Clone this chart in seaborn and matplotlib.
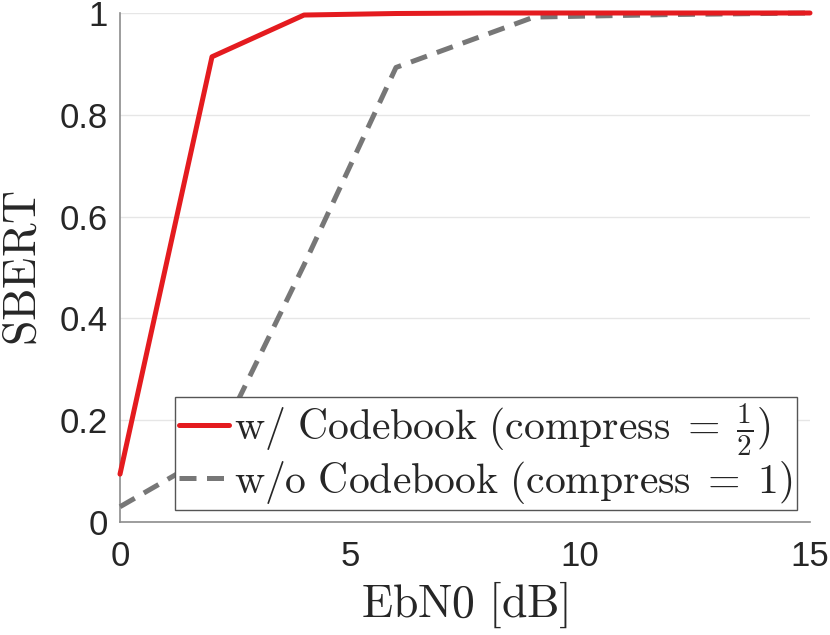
import numpy as np
import pandas as pd
import seaborn as sns
import matplotlib
matplotlib.use("Agg")
import matplotlib.pyplot as plt
from matplotlib.ticker import FuncFormatter

# values
ebn0_cb = [0, 2, 4, 6, 8, 10, 12, 14, 15]
sbert_cb = [0.094, 0.914, 0.996, 0.999, 1.0, 1.0, 1.0, 1.0, 1.0]
ebn0_nocb = [0, 2, 4, 6, 9, 12, 15]
sbert_nocb = [0.03, 0.134, 0.505, 0.893, 0.992, 0.997, 1.0]

lab_cb = r'$\mathrm{w/\ Codebook\ (compress}\;=\;\frac{1}{2}\mathrm{)}$'
lab_nocb = r'$\mathrm{w/o\ Codebook\ (compress}\;=\;1\mathrm{)}$'

sns.set_theme(style="white")
plt.rcParams['font.family'] = ['Liberation Sans', 'DejaVu Sans']
plt.rcParams['mathtext.fontset'] = 'cm'

fig = plt.figure(figsize=(8.3, 6.35), dpi=100)
ax = fig.add_axes([120/830, 1-522/635, 690/830, 509/635])

df1 = pd.DataFrame({'x': ebn0_cb, 'y': sbert_cb})
df2 = pd.DataFrame({'x': ebn0_nocb, 'y': sbert_nocb})
sns.lineplot(data=df1, x='x', y='y', ax=ax, color='#e41b1f', lw=3.6,
             label=lab_cb, clip_on=False, zorder=4)
sns.lineplot(data=df2, x='x', y='y', ax=ax, color='#777777', lw=3.6,
             linestyle=(0, (3.4, 2.1)), label=lab_nocb, clip_on=False, zorder=3)

ax.set_xlim(0, 15)
ax.set_ylim(0, 1)
ax.set_xticks([0, 5, 10, 15])
ax.set_yticks([0, 0.2, 0.4, 0.6, 0.8, 1.0])
ax.yaxis.set_major_formatter(FuncFormatter(lambda v, p: '%g' % v))
ax.grid(axis='y', color='#e6e6e6', lw=1)
ax.set_axisbelow(True)

for s in ['top', 'right']:
    ax.spines[s].set_visible(False)
for s in ['left', 'bottom']:
    ax.spines[s].set_color('#8c8c8c')
    ax.spines[s].set_linewidth(1.2)
ax.tick_params(direction='in', length=7, width=1.2, color='#8c8c8c',
               labelsize=25, labelcolor='#262626')
ax.tick_params(axis='x', pad=13)
ax.tick_params(axis='y', pad=9)

ax.set_xlabel(r'$\mathrm{EbN0\ [dB]}$', fontsize=33, color='#262626', labelpad=5)
ax.set_ylabel(r'$\mathrm{SBERT}$', fontsize=33, color='#262626', labelpad=10)

leg = ax.legend(loc='lower right', bbox_to_anchor=(0.981, 0.024),
                borderaxespad=0, fontsize=30, handlelength=1.2,
                handletextpad=0.12, labelspacing=0.0, borderpad=0.1,
                fancybox=False, framealpha=1)
leg.get_frame().set_edgecolor('#555555')
leg.get_frame().set_linewidth(1.0)

fig.savefig('out.png', dpi=100)
